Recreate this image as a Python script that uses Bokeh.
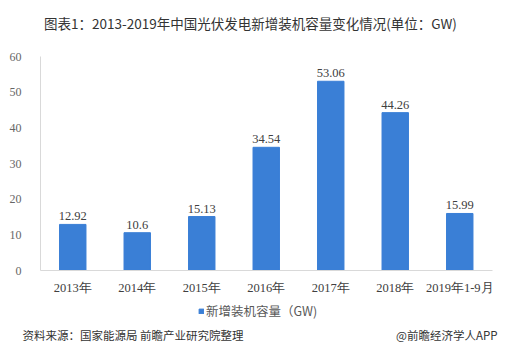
from bokeh.plotting import figure
from bokeh.models import ColumnDataSource, LabelSet, Label, Legend, LegendItem, Range1d, FixedTicker
from bokeh.embed import file_html
from bokeh.resources import INLINE

categories = ["2013年", "2014年", "2015年", "2016年", "2017年", "2018年", "2019年1-9月"]
values = [12.92, 10.6, 15.13, 34.54, 53.06, 44.26, 15.99]
value_labels = ["12.92", "10.6", "15.13", "34.54", "53.06", "44.26", "15.99"]
y_ticks = [0, 10, 20, 30, 40, 50, 60]

title_text = "图表1：2013-2019年中国光伏发电新增装机容量变化情况(单位：GW)"
series_name = "新增装机容量（GW)"
source_text = "资料来源：国家能源局 前瞻产业研究院整理"
brand_text = "@前瞻经济学人APP"

xpos = list(range(len(categories)))
src = ColumnDataSource(dict(x=xpos, val=values, lab=value_labels))

W, H = 519, 354
# frame covers the whole canvas; axes placed with fixed_location
px_x = 64.5
left_axis_px = 40.0
x_start = -0.5 - left_axis_px / px_x
x_end = x_start + W / px_x
y_top_px, y_zero_px = 56.0, 270.0
px_y = (y_zero_px - y_top_px) / 60.0
y_start = -(H - y_zero_px) / px_y
y_end = 60 + y_top_px / px_y

p = figure(width=W, height=H, output_backend="svg", toolbar_location=None, tools="",
           x_range=Range1d(x_start, x_end), y_range=Range1d(y_start, y_end),
           min_border=0, min_border_left=0, min_border_right=0,
           min_border_top=0, min_border_bottom=0)
p.outline_line_color = None

r = p.vbar(x="x", top="val", width=0.41, source=src, color="#3a7fd6")

p.xgrid.grid_line_color = None
p.ygrid.grid_line_color = None

serif = "Liberation Serif"
p.yaxis.fixed_location = -0.5
p.yaxis.bounds = (0, 60)
p.yaxis.ticker = FixedTicker(ticks=y_ticks)
p.yaxis.major_tick_line_color = None
p.yaxis.minor_tick_line_color = None
p.yaxis.axis_line_color = "#d9d9d9"
p.yaxis.major_label_text_font = serif
p.yaxis.major_label_text_font_size = "12px"
p.yaxis.major_label_text_color = "#666666"
p.yaxis.major_label_standoff = 13

p.xaxis.fixed_location = 0
p.xaxis.bounds = (-0.5, len(categories) - 0.5)
p.xaxis.ticker = FixedTicker(ticks=xpos)
p.xaxis.major_label_overrides = {i: c for i, c in zip(xpos, categories)}
p.xaxis.major_tick_line_color = None
p.xaxis.minor_tick_line_color = None
p.xaxis.axis_line_color = "#d9d9d9"
p.xaxis.major_label_text_font = serif
p.xaxis.major_label_text_font_size = "12.5px"
p.xaxis.major_label_text_color = "#404040"
p.xaxis.major_label_standoff = 4

labels = LabelSet(x="x", y="val", text="lab", source=src, text_align="center",
                  text_baseline="bottom", y_offset=4, text_font=serif,
                  text_font_size="12.5px", text_color="#404040")
p.add_layout(labels)

p.add_layout(Label(x=250, y=H - 22, x_units="screen", y_units="screen", text=title_text,
                   text_align="center", text_baseline="middle", text_font="Noto Sans CJK SC",
                   text_font_size="13.5px", text_color="#333333"))

p.add_layout(Label(x=22, y=H - 334, x_units="screen", y_units="screen", text=source_text,
                   text_align="left", text_baseline="middle", text_font="Noto Sans CJK SC",
                   text_font_size="11.5px", text_color="#333333"))
p.add_layout(Label(x=497, y=H - 334, x_units="screen", y_units="screen", text=brand_text,
                   text_align="right", text_baseline="middle", text_font="Noto Sans CJK SC",
                   text_font_size="11.5px", text_color="#333333"))

legend = Legend(items=[LegendItem(label=series_name, renderers=[r])], location=(198, H - 320),
                glyph_width=6, glyph_height=6, label_text_font="Noto Sans CJK SC",
                label_text_font_size="12.5px", label_text_color="#595959",
                border_line_color=None, background_fill_alpha=0, padding=0, margin=0,
                label_standoff=2, label_height=14)
p.add_layout(legend)

open("out.html", "w").write(file_html(p, INLINE))
